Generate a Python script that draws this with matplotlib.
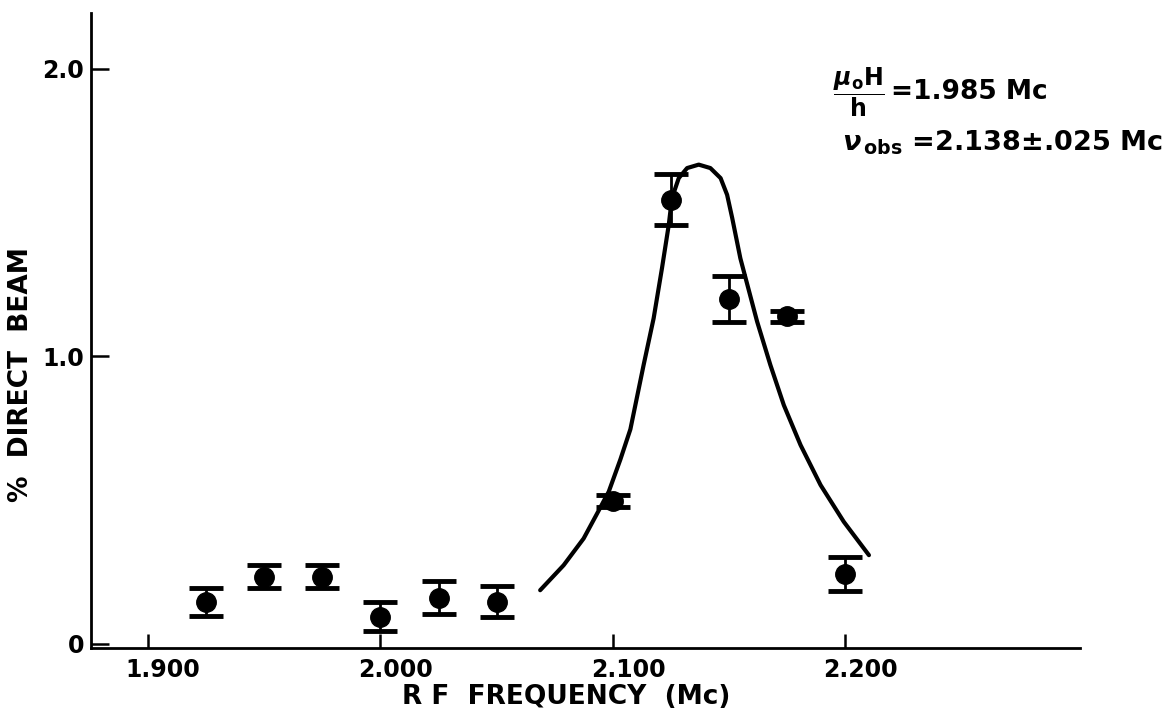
import matplotlib
matplotlib.use('Agg')
import matplotlib.pyplot as plt
import matplotlib.transforms as mtransforms

plt.rcParams['font.family'] = ['DejaVu Sans']
plt.rcParams['font.weight'] = 'bold'
plt.rcParams['mathtext.fontset'] = 'custom'
plt.rcParams['mathtext.rm'] = 'DejaVu Sans:bold'
plt.rcParams['mathtext.it'] = 'DejaVu Sans:bold:italic'

# measured points (RF frequency in Mc, % direct beam, error half-width)
freq = [1.925, 1.950, 1.975, 2.000, 2.025, 2.050, 2.100, 2.125, 2.150, 2.175, 2.200]
beam = [0.145, 0.233, 0.233, 0.094, 0.160, 0.146, 0.497, 1.545, 1.200, 1.139, 0.244]
beam_err = [0.050, 0.040, 0.040, 0.050, 0.057, 0.053, 0.022, 0.088, 0.081, 0.020, 0.059]

# hand-drawn resonance curve
curve_f = [2.0687, 2.0788, 2.0874, 2.0932, 2.0982, 2.1032, 2.1075,
           2.1132, 2.1175, 2.1211, 2.1240, 2.1254, 2.1283, 2.1319, 2.1369,
           2.1419, 2.1463, 2.1491, 2.1513, 2.1548, 2.1620, 2.1677,
           2.1735, 2.1807, 2.1893, 2.1993, 2.2101]
curve_b = [0.186, 0.273, 0.366, 0.453, 0.529, 0.641, 0.746,
           0.970, 1.132, 1.307, 1.457, 1.551, 1.620, 1.655, 1.667,
           1.655, 1.620, 1.562, 1.481, 1.341, 1.121, 0.970,
           0.830, 0.691, 0.552, 0.424, 0.308]

xticks = [1.9, 2.0, 2.1, 2.2]
xtick_labels = ['1.900', '2.000', '2.100', '2.200']
yticks = [0, 1.0, 2.0]
ytick_labels = ['0', '1.0', '2.0']

fig = plt.figure(figsize=(11.75, 7.16), dpi=100)
ax = fig.add_axes([0.0774, 0.095, 0.842, 0.887])

ax.plot(curve_f, curve_b, color='black', lw=3, solid_capstyle='round',
        solid_joinstyle='round')
ax.errorbar(freq, beam, yerr=beam_err, fmt='o', color='black', ms=14,
            elinewidth=2, capsize=12, capthick=3.5)

ax.set_xlim(1.8755, 2.301)
ax.set_ylim(-0.015, 2.195)

for side in ['top', 'right']:
    ax.spines[side].set_visible(False)
for side in ['left', 'bottom']:
    ax.spines[side].set_linewidth(2)

ax.set_xticks(xticks)
ax.set_xticklabels(xtick_labels)
ax.set_yticks(yticks)
ax.set_yticklabels(ytick_labels)
ax.tick_params(axis='x', direction='in', length=10, width=1.8, labelsize=17, pad=7)
ax.tick_params(axis='y', direction='in', length=13, width=1.8, labelsize=17, pad=5)

# tick labels on the original sit a little right of their ticks
offset = mtransforms.ScaledTranslation(15 / 100, 0, fig.dpi_scale_trans)
for lbl in ax.get_xticklabels():
    lbl.set_transform(lbl.get_transform() + offset)

ax.set_xlabel('R F  FREQUENCY  (Mc)', fontsize=19, fontweight='bold')
ax.xaxis.set_label_coords(0.48, -0.057)
ax.set_ylabel('%  DIRECT  BEAM', fontsize=19, fontweight='bold')
ax.yaxis.set_label_coords(-0.058, 0.43)

fig.text(0.709, 0.871, r'$\dfrac{\mu_{\mathrm{o}}\mathrm{H}}{\mathrm{h}}$',
         fontsize=17, va='center', ha='left')
fig.text(0.758, 0.871, '=1.985 Mc', fontsize=19, va='center', ha='left')
fig.text(0.717, 0.80, r'$\nu_{\,\mathrm{obs}}$' + ' =2.138$\\pm$.025 Mc',
         fontsize=19.5, va='center', ha='left')

fig.savefig('out.png', dpi=100)
